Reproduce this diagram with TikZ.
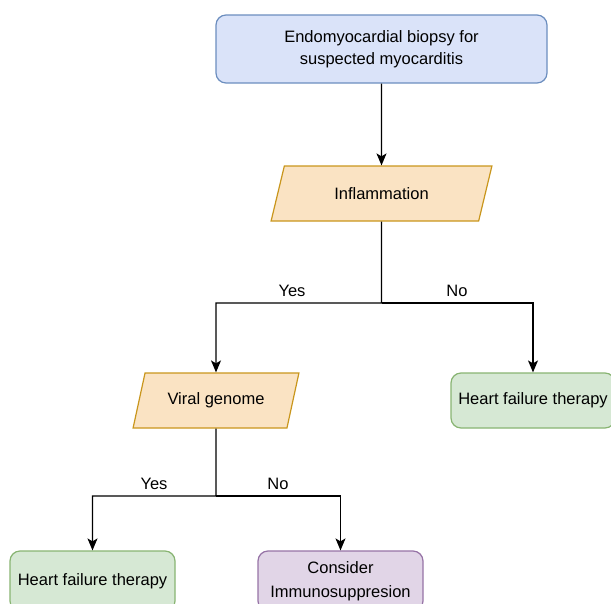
\documentclass[tikz,border=0pt]{standalone}
\usepackage{fontspec}
\setmainfont{Liberation Sans}
\usetikzlibrary{shapes.geometric,arrows.meta}
\definecolor{bluefill}{HTML}{DAE3F9}
\definecolor{bluedraw}{HTML}{6C8EBF}
\definecolor{orangefill}{HTML}{FAE3C3}
\definecolor{orangedraw}{HTML}{C9961C}
\definecolor{greenfill}{HTML}{D6E8D4}
\definecolor{greendraw}{HTML}{88B472}
\definecolor{purplefill}{HTML}{E1D5E7}
\definecolor{purpledraw}{HTML}{9673A6}
\tikzset{
	box/.style={rectangle,rounded corners=10pt,line width=1.2pt,align=center,inner sep=0pt},
	slanted/.style={trapezium,trapezium left angle=62,trapezium right angle=118,trapezium stretches=true,
		fill=orangefill,draw=orangedraw,line width=1.2pt,inner sep=0pt},
	arrow/.style={line width=1.3pt,-{Stealth[length=12pt,width=10pt,inset=3pt]}},
	lbl/.style={inner sep=0pt}
}
\begin{document}
\begin{tikzpicture}[x=1pt,y=-1pt,font=\fontsize{16.5}{22}\selectfont]
		\useasboundingbox (0,0) rectangle (611,603);
		\clip (0,0) rectangle (611,603);
		\node[box,fill=bluefill,draw=bluedraw,minimum width=331pt,minimum height=68pt] (biopsy) at (381.5,49) {Endomyocardial biopsy for\\suspected myocarditis};
		\node[slanted,minimum width=221pt,minimum height=55pt] (infl) at (381.5,193.5) {Inflammation};
		\node[slanted,minimum width=166pt,minimum height=55pt] (viral) at (216,400.5) {Viral genome};
		\node[box,fill=greenfill,draw=greendraw,minimum width=164pt,minimum height=55pt] (hfright) at (533,400.5) {Heart failure therapy};
		\node[box,fill=greenfill,draw=greendraw,minimum width=165pt,minimum height=60pt] (hfleft) at (92.5,581) {Heart failure therapy};
		\node[box,fill=purplefill,draw=purpledraw,minimum width=165pt,minimum height=60pt] (immuno) at (340.5,581) {Consider\\[2pt]Immunosuppresion};
		\coordinate (split1) at (381.5,303);
		\coordinate (split2) at (216,496);
		\draw[arrow] (biopsy) -- (infl);
		\draw[arrow] (infl.south) -- (split1) -| (viral.north);
		\draw[arrow] (split1) -| (hfright.north);
		\draw[arrow] (viral.south) -- (split2) -| (hfleft.north);
		\draw[arrow] (split2) -| (immuno.north);
		\node[lbl] (yes1) at (292,291) {Yes};
		\node[lbl] (no1) at (457,291) {No};
		\node[lbl] (yes2) at (154,484) {Yes};
		\node[lbl] (no2) at (278,484) {No};
	\end{tikzpicture}
\end{document}
